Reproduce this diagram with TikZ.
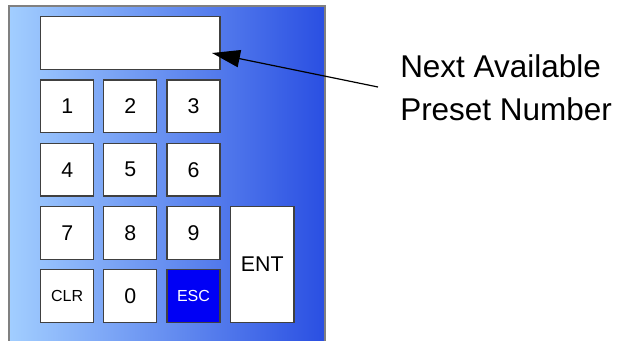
\documentclass[tikz,border=0pt]{standalone}
\usepackage{fontspec}
\setmainfont{Liberation Sans}
\usepackage{tikz}
\usetikzlibrary{arrows.meta}

\definecolor{panelleft}{HTML}{A2CEFF}
\definecolor{panelright}{HTML}{2A4FE2}
\definecolor{escblue}{HTML}{0000F5}
\definecolor{keyline}{HTML}{404040}

\tikzset{
  key/.style={draw=keyline, fill=white, line width=0.9pt, inner sep=0pt,
    minimum width=39.75pt, minimum height=39.5pt, font=\fontsize{16}{18}\selectfont},
  smallkey/.style={key, font=\fontsize{12}{14}\selectfont}
}

\begin{document}
\begin{tikzpicture}[x=0.75pt, y=-0.75pt]
\useasboundingbox (0,0) rectangle (617,340);
\begin{scope}
\clip (0,0) rectangle (617,340);
\draw[draw=gray, line width=0.9pt, left color=panelleft, right color=panelright]
  (9,6) rectangle (325,360);
\end{scope}

% display
\node[key, minimum width=134.5pt] (disp) at (130.3,43) {};

% keys
\node[key] (k1) at (67.2,106.3) {1};
\node[key] (k2) at (130.2,106.3) {2};
\node[key] (k3) at (193.5,106.3) {3};
\node[key] (k4) at (67.2,169.7) {4};
\node[key] (k5) at (130.2,169.7) {5};
\node[key] (k6) at (193.5,169.7) {6};
\node[key] (k7) at (67.2,232.8) {7};
\node[key] (k8) at (130.2,232.8) {8};
\node[key] (k9) at (193.5,232.8) {9};
\node[smallkey] (clr) at (67.2,295.8) {CLR};
\node[key] (k0) at (130.2,295.8) {0};
\node[smallkey, fill=escblue, text=white] (esc) at (193.5,295.8) {ESC};
\node[key, minimum width=47.5pt, minimum height=86.7pt] (ent) at (262.3,264.5) {ENT};

% label and pointer
\node[anchor=north west, inner sep=0pt, align=left,
  font=\fontsize{23.6}{32.3}\selectfont] (lbl) at (400,54.5)
  {Next Available\\Preset Number};
\coordinate (tail) at (378,87);
\coordinate (tip) at (212,53);
\draw[line width=0.9pt, -{Triangle[length=21pt, width=13pt]}] (tail) -- (tip);
\end{tikzpicture}
\end{document}
